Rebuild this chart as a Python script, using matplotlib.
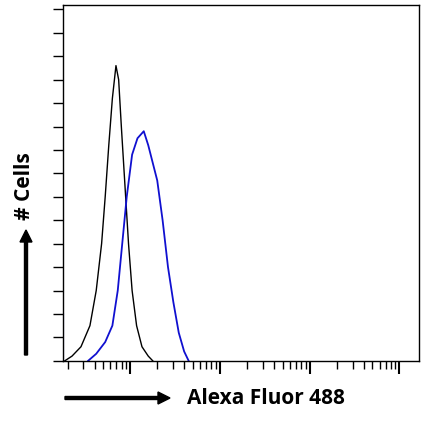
import numpy as np
import matplotlib
matplotlib.use("Agg")
import matplotlib.pyplot as plt
from matplotlib.ticker import LogLocator, NullFormatter

black_logx = [0.27,0.35,0.45,0.55,0.62,0.68,0.72,0.76,0.80,0.84,0.87,0.90,0.94,0.98,1.02,1.07,1.13,1.20,1.25]
black_cnt  = [0,2,6,15,30,50,70,92,112,126,120,100,75,50,30,15,6,2,0]
blue_logx = [0.53,0.62,0.72,0.80,0.86,0.91,0.96,1.02,1.08,1.15,1.20,1.30,1.36,1.42,1.48,1.54,1.60,1.65]
blue_cnt  = [0,3,8,15,30,50,70,88,95,98,92,77,60,40,25,12,4,0]
blue_spike = 20

fig = plt.figure(figsize=(4.23,4.28), dpi=100)
ax = fig.add_axes([0.149,0.157,0.842,0.832])
bx = 10**np.array(black_logx); ux = 10**np.array(blue_logx)
ax.plot(bx, black_cnt, color='black', lw=1)
ax.plot(ux, blue_cnt, color='#1010d0', lw=1.3)
ax.plot([10**0.255,10**0.255],[0,blue_spike], color='#1010d0', lw=1.5)
ax.set_xscale('log')
ax.set_xlim(10**0.25, 10**4.22)
ax.set_ylim(0,152)
ax.xaxis.set_major_locator(LogLocator(base=10, numticks=10))
ax.xaxis.set_minor_locator(LogLocator(base=10, subs=np.arange(2,10), numticks=50))
ax.xaxis.set_major_formatter(NullFormatter()); ax.xaxis.set_minor_formatter(NullFormatter())
ax.tick_params(axis='x', which='major', direction='out', length=9, width=1.5)
ax.tick_params(axis='x', which='minor', direction='out', length=6, width=1)
ax.set_yticks(np.arange(0,151,10))
ax.set_yticklabels([])
ax.tick_params(axis='y', direction='out', length=7, width=1)
for s in ax.spines.values(): s.set_linewidth(1)

fig.patches.append(matplotlib.patches.FancyArrow(65/423, 1-398/428, 105/423, 0, width=3/428,
    head_width=12/428, head_length=12/423, color='black', transform=fig.transFigure, length_includes_head=True))
fig.text(187/423, 1-398/428, 'Alexa Fluor 488', fontsize=15, fontweight='bold', family='Open Sans', va='center', ha='left')
fig.patches.append(matplotlib.patches.FancyArrow(26/423, 1-355/428, 0, 125/428, width=3/423,
    head_width=12/423, head_length=12/428, color='black', transform=fig.transFigure, length_includes_head=True))
fig.text(24/423, 1-186/428, '# Cells', fontsize=15, fontweight='bold', family='Open Sans', va='center', ha='center', rotation=90)
fig.savefig('out.png', dpi=100)
